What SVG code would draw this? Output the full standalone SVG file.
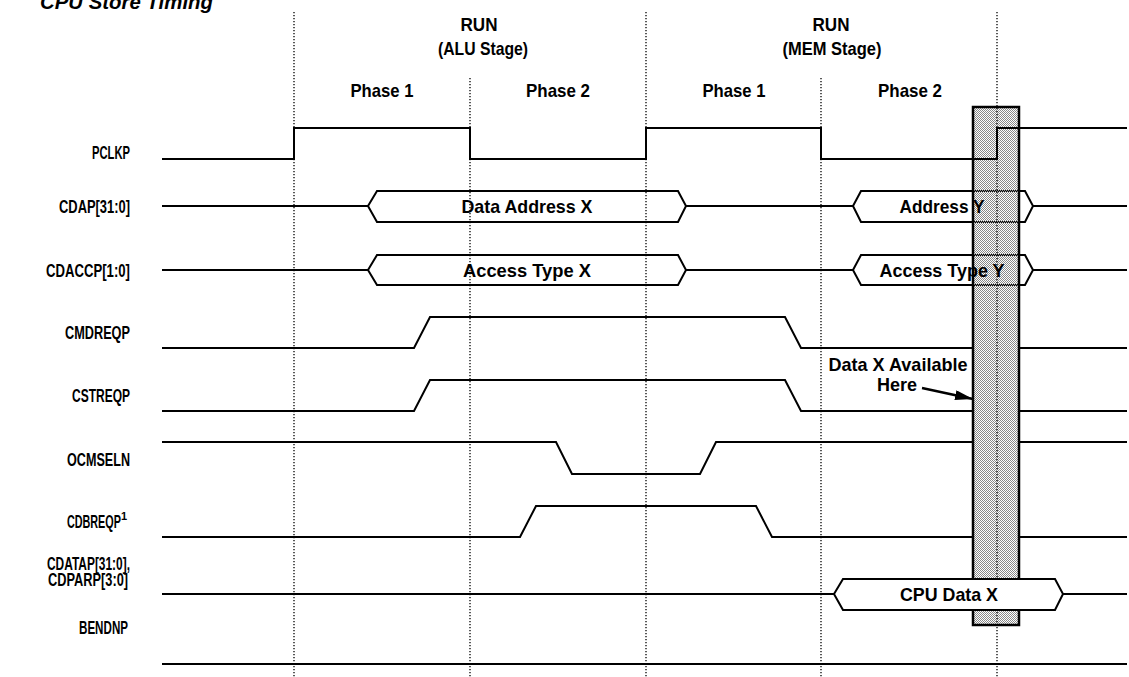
<svg xmlns="http://www.w3.org/2000/svg" width="1129" height="677" viewBox="0 0 1129 677">
<defs>
<style>
text{font-family:"Liberation Sans",Arial,sans-serif;font-weight:bold;font-size:19px;fill:#000}
.lbl{text-anchor:end}
.mid{text-anchor:middle}
.w{fill:none;stroke:#000;stroke-width:2;stroke-linejoin:miter}
.bus{fill:none;stroke:#000;stroke-width:2;stroke-linejoin:miter}
.busw{fill:#fff;stroke:#000;stroke-width:2;stroke-linejoin:miter}
.grid{stroke:#000;stroke-width:1.3;stroke-dasharray:1.3 1.7;fill:none}
</style>
<pattern id="stip" width="2" height="2" patternUnits="userSpaceOnUse"><rect width="1" height="1" fill="#888"/><rect x="1" y="1" width="1" height="1" fill="#888"/></pattern>
<marker id="ah" markerUnits="userSpaceOnUse" viewBox="0 0 18 10" refX="18" refY="5" markerWidth="18" markerHeight="10" orient="auto"><path d="M0,0 L18,5 L0,10 z" fill="#000"/></marker>
</defs>
<rect width="1129" height="677" fill="#fff"/>
<text x="40" y="9" textLength="173" lengthAdjust="spacingAndGlyphs" style="font-style:italic;font-size:21px">CPU Store Timing</text>
<g id="header">
<text class="mid" x="479" y="31" textLength="37" lengthAdjust="spacingAndGlyphs">RUN</text>
<text class="mid" x="483" y="55" textLength="90" lengthAdjust="spacingAndGlyphs">(ALU Stage)</text>
<text class="mid" x="831" y="31" textLength="37" lengthAdjust="spacingAndGlyphs">RUN</text>
<text class="mid" x="832" y="55" textLength="99" lengthAdjust="spacingAndGlyphs">(MEM Stage)</text>
<text class="mid" x="382" y="97" textLength="63" lengthAdjust="spacingAndGlyphs">Phase 1</text>
<text class="mid" x="558" y="97" textLength="64" lengthAdjust="spacingAndGlyphs">Phase 2</text>
<text class="mid" x="734" y="97" textLength="63" lengthAdjust="spacingAndGlyphs">Phase 1</text>
<text class="mid" x="910" y="97" textLength="64" lengthAdjust="spacingAndGlyphs">Phase 2</text>
</g>
<g id="labels">
<text class="lbl" x="130" y="159" textLength="38" lengthAdjust="spacingAndGlyphs">PCLKP</text>
<text class="lbl" x="130" y="213" textLength="71" lengthAdjust="spacingAndGlyphs">CDAP[31:0]</text>
<text class="lbl" x="130" y="277" textLength="84" lengthAdjust="spacingAndGlyphs">CDACCP[1:0]</text>
<text class="lbl" x="130" y="339" textLength="65" lengthAdjust="spacingAndGlyphs">CMDREQP</text>
<text class="lbl" x="130" y="402" textLength="58" lengthAdjust="spacingAndGlyphs">CSTREQP</text>
<text class="lbl" x="130" y="466" textLength="63" lengthAdjust="spacingAndGlyphs">OCMSELN</text>
<text class="lbl" x="127" y="528"><tspan textLength="54" lengthAdjust="spacingAndGlyphs">CDBREQP</tspan><tspan dy="-8" style="font-size:11px">1</tspan></text>
<text class="lbl"><tspan x="130" y="570" textLength="83" lengthAdjust="spacingAndGlyphs">CDATAP[31:0],</tspan><tspan x="128" y="586" textLength="80" lengthAdjust="spacingAndGlyphs">CDPARP[3:0]</tspan></text>
<text class="lbl" x="128" y="634" textLength="49" lengthAdjust="spacingAndGlyphs">BENDNP</text>
</g>
<g id="sig-CMDREQP"><path class="w" d="M162,348 H414 L430,317 H785 L801,348 H973 M1019,348 H1127"/></g>
<g id="sig-CSTREQP"><path class="w" d="M162,411 H414 L430,380 H785 L801,411 H973 M1019,411 H1127"/></g>
<g id="sig-OCMSELN"><path class="w" d="M162,442 H556 L572,474 H700 L716,442 H973 M1019,442 H1127"/></g>
<g id="sig-CDBREQP"><path class="w" d="M162,537 H520 L536,506 H756 L772,537 H973 M1019,537 H1127"/></g>
<g id="sig-BENDNP"><path class="w" d="M162,664 H1127"/></g>
<g id="sig-CDAP">
<path class="w" d="M162,206 H368 M686,206 H853 M1033,206 H1127"/>
<polygon class="bus" points="368,206 377,191 678,191 686,206 678,222 377,222"/>
<polygon class="bus" points="853,206 861,191 1025,191 1033,206 1025,222 861,222"/>
</g>
<g id="sig-CDACCP">
<path class="w" d="M162,270 H368 M686,270 H853 M1033,270 H1127"/>
<polygon class="bus" points="368,270 377,255 678,255 686,270 678,285 377,285"/>
<polygon class="bus" points="853,270 861,255 1025,255 1033,270 1025,285 861,285"/>
</g>
<g id="window"><rect x="973" y="107" width="46" height="518" fill="url(#stip)" stroke="#000" stroke-width="2.5"/></g>
<g id="grid">
<line class="grid" x1="294" y1="12" x2="294" y2="677"/>
<line class="grid" x1="470" y1="78" x2="470" y2="677"/>
<line class="grid" x1="646" y1="12" x2="646" y2="677"/>
<line class="grid" x1="821" y1="78" x2="821" y2="677"/>
<line class="grid" x1="997" y1="12" x2="997" y2="677"/>
</g>
<g id="sig-PCLKP"><path class="w" d="M162,159 H294 V128 H470 V159 H646 V128 H821 V159 H997 V128 H1127"/></g>
<g id="bus-text">
<text class="mid" x="527" y="213" textLength="131" lengthAdjust="spacingAndGlyphs">Data Address X</text>
<text class="mid" x="942" y="213" textLength="85" lengthAdjust="spacingAndGlyphs">Address Y</text>
<text class="mid" x="527" y="277" textLength="128" lengthAdjust="spacingAndGlyphs">Access Type X</text>
<text class="mid" x="942" y="277" textLength="125" lengthAdjust="spacingAndGlyphs">Access Type Y</text>
</g>
<g id="sig-CDATAP">
<path class="w" d="M162,594 H834 M1063,594 H1127"/>
<polygon class="busw" points="834,594 843,579 1055,579 1063,594 1055,610 843,610"/>
<text class="mid" x="949" y="601" textLength="98" lengthAdjust="spacingAndGlyphs">CPU Data X</text>
</g>
<g id="note">
<text class="mid" x="898" y="371" textLength="139" lengthAdjust="spacingAndGlyphs">Data X Available</text>
<text class="mid" x="897" y="391" textLength="40" lengthAdjust="spacingAndGlyphs">Here</text>
</g>
<g id="connectors">
<line x1="922" y1="388" x2="973" y2="399" stroke="#000" stroke-width="2.5" marker-end="url(#ah)"/>
</g>
</svg>
